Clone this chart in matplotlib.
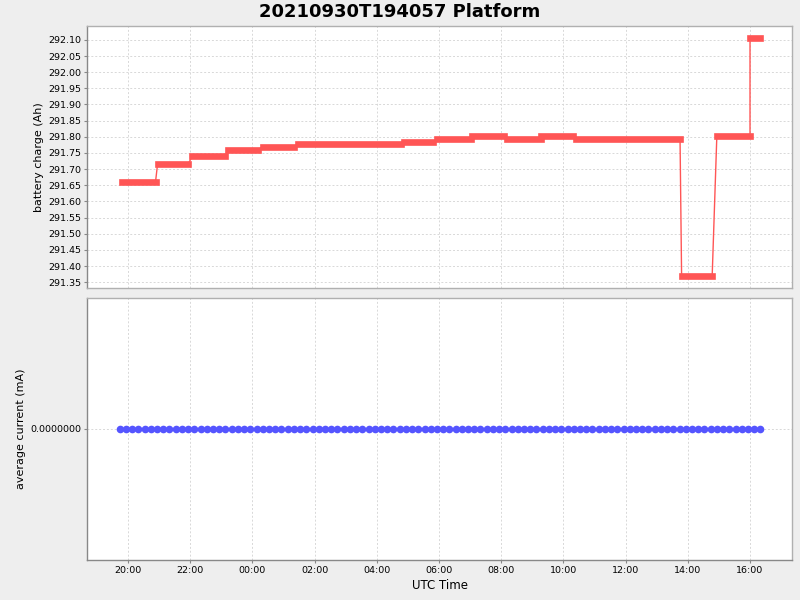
import pandas as pd
import matplotlib
matplotlib.use('Agg')
import matplotlib.pyplot as plt
import matplotlib.dates as mdates

# battery charge steps: start time, end time, level (Ah)
seg_start = ['2021-09-30 19:49', '2021-09-30 20:57', '2021-09-30 22:04', '2021-09-30 23:12',
             '2021-10-01 00:20', '2021-10-01 01:27', '2021-10-01 04:52', '2021-10-01 05:56',
             '2021-10-01 07:04', '2021-10-01 08:11', '2021-10-01 09:17', '2021-10-01 10:25',
             '2021-10-01 13:48', '2021-10-01 14:56', '2021-10-01 16:00']
seg_end = ['2021-09-30 20:53', '2021-09-30 21:56', '2021-09-30 23:08', '2021-10-01 00:10',
           '2021-10-01 01:21', '2021-10-01 04:47', '2021-10-01 05:49', '2021-10-01 07:01',
           '2021-10-01 08:05', '2021-10-01 09:16', '2021-10-01 10:19', '2021-10-01 13:45',
           '2021-10-01 14:47', '2021-10-01 16:00', '2021-10-01 16:20']
charge = [291.660, 291.716, 291.740, 291.759, 291.769, 291.779, 291.783, 291.793,
          291.803, 291.793, 291.803, 291.793, 291.369, 291.803, 292.106]

# average current samples (mA)
current_times = ('19:44 19:56 20:08 20:20 20:32 20:44 20:56 21:08 21:20 21:32 21:44 21:56 '
                 '22:08 22:20 22:32 22:44 22:56 23:08 23:20 23:32 23:44 23:56 '
                 '00:08 00:20 00:32 00:44 00:56 01:08 01:20 01:32 01:44 01:56 '
                 '02:08 02:20 02:32 02:44 02:56 03:08 03:20 03:32 03:44 03:56 '
                 '04:08 04:20 04:32 04:44 04:56 05:08 05:20 05:32 05:44 05:56 '
                 '06:08 06:20 06:32 06:44 06:56 07:08 07:20 07:32 07:44 07:56 '
                 '08:08 08:20 08:32 08:44 08:56 09:08 09:20 09:32 09:44 09:56 '
                 '10:08 10:20 10:32 10:44 10:56 11:08 11:20 11:32 11:44 11:56 '
                 '12:08 12:20 12:32 12:44 12:56 13:08 13:20 13:32 13:44 13:56 '
                 '14:08 14:20 14:32 14:44 14:56 15:08 15:20 15:32 15:44 15:56 '
                 '16:08 16:20').split()
current = [0.0] * len(current_times)

title = '20210930T194057 Platform'
red = '#FF5555'
blue = '#5555FF'
spine_col = '#B0B0B0'
axis_col = '#888888'
grid_col = '#D8D8D8'

seg_start = pd.to_datetime(seg_start)
seg_end = pd.to_datetime(seg_end)

cur_t = []
day = pd.Timestamp('2021-09-30')
for s in current_times:
    t = pd.Timestamp(day.strftime('%Y-%m-%d') + ' ' + s)
    if cur_t and t < cur_t[-1]:
        day = day + pd.Timedelta(days=1)
        t = pd.Timestamp(day.strftime('%Y-%m-%d') + ' ' + s)
    cur_t.append(t)

fig = plt.figure(figsize=(8, 6), dpi=100, facecolor='#EEEEEE')
ax1 = fig.add_axes([0.10875, 0.52, 0.88125, 0.4367])
ax2 = fig.add_axes([0.10875, 0.0667, 0.88125, 0.4367], sharex=ax1)

# thin connecting line through all step end points
xs, ys = [], []
for a, b, v in zip(seg_start, seg_end, charge):
    xs += [a, b]
    ys += [v, v]
ax1.plot(xs, ys, color=red, lw=1, zorder=3)
for a, b, v in zip(seg_start, seg_end, charge):
    ax1.plot([a, b], [v, v], color=red, lw=4.8, solid_capstyle='projecting', zorder=4)

ax2.plot(cur_t, current, color=blue, lw=1.5, marker='o', ms=5.5, mew=0, zorder=3)

ax1.set_ylim(291.332, 292.143)
ax1.set_yticks([291.35 + 0.05 * i for i in range(16)])
ax1.yaxis.set_major_formatter(plt.FuncFormatter(lambda v, p: '%.2f' % v))
ax1.set_ylabel('battery charge (Ah)', fontsize=8, labelpad=3)

ax2.set_ylim(-1, 1)
ax2.set_yticks([0])
ax2.set_yticklabels(['0.0000000'])
ax2.set_ylabel('average current (mA)', fontsize=8, labelpad=3)
ax2.set_xlabel('UTC Time', fontsize=8.5, labelpad=3)

ax1.set_xlim(pd.Timestamp('2021-09-30 18:40:50'), pd.Timestamp('2021-10-01 17:21'))
ax2.xaxis.set_major_locator(mdates.HourLocator(byhour=range(0, 24, 2)))
ax2.xaxis.set_major_formatter(mdates.DateFormatter('%H:%M'))

for ax in (ax1, ax2):
    ax.set_facecolor('white')
    for sp in ax.spines.values():
        sp.set_color(spine_col)
        sp.set_linewidth(1)
    ax.spines['left'].set_color(axis_col)
    ax.grid(True, color=grid_col, linestyle=(0, (2, 2)), linewidth=0.7)
    ax.set_axisbelow(True)
    ax.tick_params(labelsize=6.8, length=2, color=axis_col, pad=2)
ax2.spines['bottom'].set_color(axis_col)
plt.setp(ax1.get_xticklabels(), visible=False)
ax1.tick_params(axis='x', length=0)

fig.text(0.5, 0.98, title, ha='center', va='center', fontsize=13, fontweight='bold')

fig.savefig('out.png', dpi=100, facecolor=fig.get_facecolor())
